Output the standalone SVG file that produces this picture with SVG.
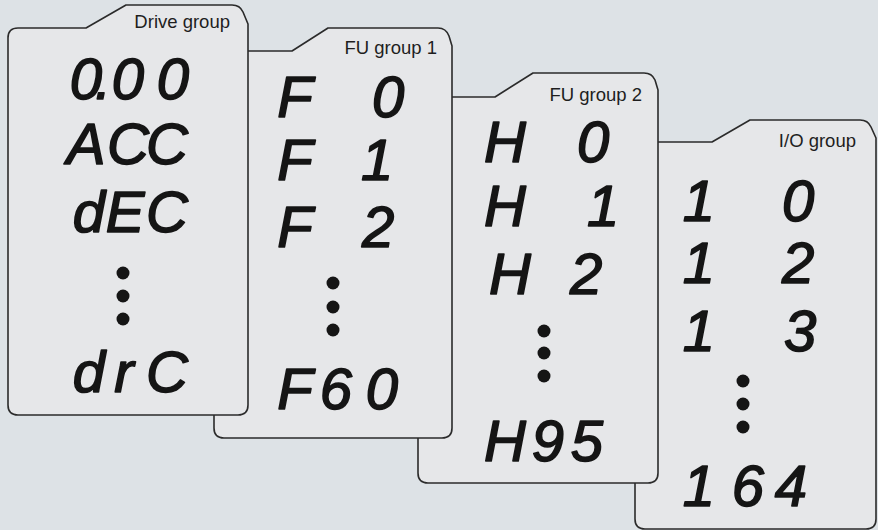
<svg xmlns="http://www.w3.org/2000/svg" width="878" height="530" viewBox="0 0 878 530">
<style>
.card{fill:#e6e7e9;stroke:#2b2b2b;stroke-width:1.6;stroke-linejoin:round}
.lbl{font-family:"Liberation Sans",Arial,sans-serif;font-size:18.5px;fill:#1e1e1e;text-anchor:end}
.seg{font-family:"Liberation Sans",Arial,sans-serif;font-style:italic;font-size:58px;fill:#151515;text-anchor:middle;stroke:#151515;stroke-width:1.6;stroke-linejoin:round}
.dot{fill:#151515}
</style>
<rect x="0" y="0" width="878" height="530" fill="#dde2e6"/>
<g id="connectors"></g>
<g id="io-group">
<path class="card" d="M635,152 Q635,142 645,142 L712,142 L750,120 L860,120 Q868,120 871,127 L876,138 L876,519 Q876,529 866,529 L645,529 Q635,529 635,519 Z"/>
<text class="lbl" x="856" y="147">I/O group</text>
<text class="seg" x="699 790" y="221">1 0</text>
<text class="seg" x="699 790" y="283">1 2</text>
<text class="seg" x="699 792" y="351">1 3</text>
<circle class="dot" cx="743" cy="381" r="6.5"/>
<circle class="dot" cx="743" cy="404" r="6.5"/>
<circle class="dot" cx="743" cy="427" r="6.5"/>
<text class="seg" x="699 748 791" y="506">164</text>
</g>
<g id="fu-group-2">
<path class="card" d="M418,107 Q418,97 428,97 L495,97 L533,73 L644,73 Q652,73 655,80 L658,90 L658,473 Q658,483 648,483 L428,483 Q418,483 418,473 Z"/>
<text class="lbl" x="642" y="101">FU group 2</text>
<text class="seg" x="505 585" y="162">H 0</text>
<text class="seg" x="505 595" y="226">H 1</text>
<text class="seg" x="510 578" y="294">H 2</text>
<circle class="dot" cx="544" cy="331" r="6.5"/>
<circle class="dot" cx="544" cy="353" r="6.5"/>
<circle class="dot" cx="544" cy="376" r="6.5"/>
<text class="seg" x="505 548 587" y="461">H95</text>
</g>
<g id="fu-group-1">
<path class="card" d="M214,61 Q214,51 224,51 L292,51 L328,28 L438,28 Q446,28 449,36 L452,46 L452,428 Q452,438 442,438 L224,438 Q214,438 214,428 Z"/>
<text class="lbl" x="437" y="54">FU group 1</text>
<text class="seg" x="295 380" y="117">F 0</text>
<text class="seg" x="295 369" y="180">F 1</text>
<text class="seg" x="295 370" y="247">F 2</text>
<circle class="dot" cx="333" cy="283" r="6.5"/>
<circle class="dot" cx="333" cy="307" r="6.5"/>
<circle class="dot" cx="333" cy="330" r="6.5"/>
<text class="seg" x="295 336 382" y="409">F60</text>
</g>
<g id="drive-group">
<path class="card" d="M8,38 Q8,28 18,28 L86,28 L126,5 L232,5 Q240,5 243,12 L248,24 L248,405 Q248,415 238,415 L18,415 Q8,415 8,405 Z"/>
<text class="lbl" x="230" y="28">Drive group</text>
<text class="seg" x="86 103 128 173" y="99">0.00</text>
<text class="seg" x="86 128 167" y="164">ACC</text>
<text class="seg" x="89 125 167" y="232">dEC</text>
<circle class="dot" cx="123" cy="273" r="6.5"/>
<circle class="dot" cx="123" cy="296" r="6.5"/>
<circle class="dot" cx="123" cy="319" r="6.5"/>
<text class="seg" x="89 124 167" y="392">drC</text>
</g>
</svg>
